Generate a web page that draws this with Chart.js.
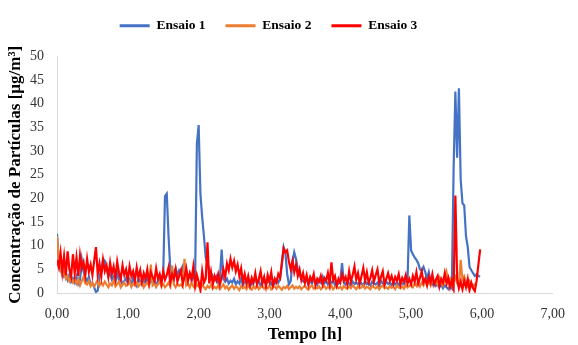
<!DOCTYPE html>
<html lang="pt">
<head>
    <meta charset="UTF-8">
    <title>Concentração de Partículas</title>
    <script src="https://cdn.jsdelivr.net/npm/chart.js@4.4.1/dist/chart.umd.min.js"></script>
</head>
<style>
    body {
        margin: 0;
        background: #ffffff;
    }

    .box {
        width: 578px;
        height: 345px;
    }
</style>
<body>
    <div class="box">
        <canvas id="myChart"></canvas>
    </div>

    <script>
        // amostragem a cada 0,025 h (0,00 ... 6,00 h)
        const passo = 0.025
        const tempo = Array.from({ length: 241 }, (_, i) => i * passo)

        const ensaio1 = [
            12.5, 6.5, 4.8, 5.5, 3.6, 4.2, 2.8, 3.9, 2.4, 3.1,
            2.2, 3.5, 1.9, 2.8, 7.0, 4.6, 3.2, 2.5, 3.4, 1.8,
            2.0, 1.2, 0.2, 0.5, 3.8, 4.5, 7.2, 6.8, 5.0, 3.6,
            4.2, 2.8, 3.5, 2.2, 4.8, 2.6, 3.0, 1.8, 2.5, 3.2,
            2.0, 2.8, 1.6, 3.4, 2.2, 1.5, 3.0, 2.4, 1.8, 2.9,
            2.0, 3.5, 1.8, 2.6, 2.2, 3.0, 1.5, 2.4, 2.8, 3.2,
            4.0, 20.5, 21.0, 12.0, 5.0, 3.2, 4.5, 5.2, 3.8, 4.8,
            4.2, 5.5, 3.5, 4.8, 3.0, 4.0, 2.6, 3.4, 3.0, 31.5,
            35.5, 21.0, 16.0, 12.0, 7.5, 6.3, 5.0, 4.2, 3.5, 2.8,
            3.5, 2.2, 3.0, 9.2, 3.0, 2.4, 3.0, 2.0, 2.6, 2.2,
            3.0, 1.8, 2.5, 2.0, 3.2, 1.6, 2.4, 2.8, 2.0, 2.6,
            1.8, 2.4, 3.0, 2.0, 2.6, 1.5, 2.2, 2.8, 2.0, 2.4,
            2.4, 1.8, 2.6, 2.0, 2.8, 2.2, 3.0, 6.0, 9.7, 8.5,
            4.0, 1.8, 2.5, 6.5, 8.6, 7.2, 5.0, 3.8, 3.0, 2.5,
            2.2, 3.0, 1.8, 2.6, 2.0, 3.0, 2.4, 1.8, 2.8, 2.2,
            3.4, 2.0, 2.6, 1.8, 2.4, 2.0, 2.8, 1.6, 2.4, 2.0,
            2.6, 6.3, 2.2, 1.8, 2.5, 2.0, 1.6, 2.4, 1.9, 2.2,
            1.8, 2.4, 2.0, 1.5, 2.6, 1.9, 2.2, 1.6, 2.4, 2.0,
            1.8, 2.2, 1.5, 2.6, 2.0, 1.7, 2.4, 1.9, 2.2, 1.6,
            2.4, 1.8, 2.2, 1.5, 2.6, 2.0, 1.8, 2.4, 3.0, 16.4,
            9.0, 8.2, 7.5, 7.0, 6.3, 5.0, 4.7, 5.5, 4.4, 3.0,
            4.4, 2.5, 1.8, 2.4, 1.5, 2.0, 1.2, 1.8, 1.0, 1.6,
            1.2, 0.8, 1.5, 1.0, 26.0, 42.6, 28.6, 43.3, 24.0, 19.0,
            18.5, 12.0, 9.7, 5.5, 4.8, 4.2, 3.6, 4.0, 3.6, 3.5,
            null
        ]

        const ensaio2 = [
            12.0, 7.0, 5.5, 3.8, 4.5, 3.0, 3.6, 2.5, 3.2, 2.2,
            2.8, 2.0, 3.0, 1.6, 2.5, 3.4, 2.0, 1.8, 2.6, 1.5,
            2.2, 1.4, 2.0, 2.8, 1.5, 2.2, 1.6, 2.4, 1.8, 1.2,
            2.0, 1.6, 2.6, 1.4, 1.9, 2.4, 1.2, 1.8, 2.2, 1.5,
            1.8, 2.4, 1.3, 2.0, 1.6, 2.2, 1.4, 1.9, 2.5, 1.2,
            1.8, 2.2, 1.5, 6.0, 1.6, 2.0, 1.3, 1.8, 2.4, 1.4,
            1.9, 1.2, 1.6, 2.2, 1.4, 5.8, 1.8, 1.2, 2.0, 1.5,
            1.8, 1.3, 7.2, 1.6, 2.0, 1.2, 2.2, 1.4, 1.0, 1.8,
            1.4, 1.0, 1.8, 1.2, 0.8, 1.5, 1.1, 1.7, 0.9, 1.3,
            1.0, 1.6, 0.8, 1.3, 1.8, 1.0, 1.4, 0.7, 1.2, 1.6,
            0.9, 1.4, 1.1, 0.6, 1.5, 1.0, 1.3, 0.8, 1.6, 1.1,
            0.7, 1.4, 1.0, 1.7, 0.8, 1.2, 1.5, 0.9, 1.3, 1.0,
            1.6, 0.8, 1.2, 1.4, 0.9, 1.5, 1.1, 0.7, 1.3, 1.0,
            1.5, 0.8, 1.2, 1.6, 0.9, 1.3, 1.0, 1.4, 0.8, 1.2,
            1.5, 1.0, 0.7, 1.3, 1.6, 0.9, 1.2, 1.0, 1.4, 0.8,
            1.2, 1.5, 0.9, 1.3, 1.0, 1.6, 0.8, 1.2, 1.4, 1.0,
            1.3, 0.8, 1.5, 1.1, 0.9, 1.4, 1.0, 1.6, 1.2, 0.8,
            1.4, 1.0, 1.2, 1.6, 0.9, 1.3, 1.1, 0.8, 1.5, 1.2,
            1.0, 1.4, 0.8, 1.3, 1.6, 1.0, 1.2, 0.9, 1.5, 1.1,
            1.3, 0.8, 1.6, 1.2, 1.0, 1.4, 0.9, 1.7, 1.2, 1.5,
            1.8, 1.2, 2.0, 1.5, 2.4, 1.4, 2.2, 1.6, 2.8, 1.8,
            2.5, 1.6, 3.0, 2.0, 2.6, 1.8, 3.2, 2.2, 1.6, 2.8,
            4.4, 2.2, 3.0, 1.8, 2.6, 3.4, 2.0, 1.6, 7.0, 2.8,
            3.5, 2.0, 1.4, 2.5, 1.8, 1.2, 2.0, null, null, null,
            null
        ]

        const ensaio3 = [
            7.0, 5.5, 8.5, 4.5, 7.8, 3.8, 8.8, 5.0, 3.5, 8.2,
            4.2, 7.5, 3.6, 8.0, 5.2, 6.5, 3.8, 7.2, 4.5, 6.0,
            3.8, 6.8, 9.7, 4.0, 6.2, 3.5, 7.0, 4.6, 5.8, 3.4,
            6.4, 4.0, 5.6, 3.2, 6.6, 4.4, 3.0, 5.8, 3.8, 5.0,
            2.8, 5.6, 3.6, 4.6, 2.6, 5.4, 3.2, 4.8, 2.4, 4.2,
            3.0, 5.0, 2.2, 4.4, 3.4, 2.6, 5.2, 3.0, 4.0, 2.0,
            4.6, 2.8, 3.8, 5.4, 2.2, 4.0, 3.0, 5.0, 2.4, 3.6,
            4.8, 2.0, 3.4, 5.2, 2.6, 4.2, 3.0, 5.6, 1.6, 3.8,
            2.4, 0.6, 4.6, 2.2, 3.0, 10.7, 2.0, 4.4, 1.8, 3.6,
            2.6, 4.0, 1.8, 3.2, 5.0, 3.4, 6.2, 4.8, 7.2, 5.4,
            6.8, 4.6, 6.0, 3.6, 5.2, 2.4, 4.0, 2.0, 3.6, 1.6,
            3.2, 2.2, 4.2, 1.8, 3.0, 4.6, 2.0, 3.4, 1.4, 3.8,
            2.4, 4.4, 1.6, 3.0, 2.2, 4.0, 3.2, 6.4, 9.4, 8.6,
            9.0, 6.6, 5.0, 6.8, 4.4, 6.0, 3.6, 5.0, 2.8, 4.2,
            2.2, 3.8, 1.8, 3.4, 2.6, 4.0, 1.6, 3.0, 2.4, 3.6,
            1.8, 3.2, 2.6, 4.2, 2.0, 6.5, 2.8, 3.6, 1.6, 3.0,
            2.2, 4.0, 2.6, 3.4, 1.8, 4.6, 2.4, 3.8, 5.6, 2.8,
            4.2, 2.0, 3.6, 5.3, 2.6, 4.4, 2.2, 3.2, 4.8, 2.4,
            3.8, 5.0, 2.2, 3.4, 4.6, 1.8, 3.0, 4.2, 2.6, 3.6,
            2.0, 3.4, 2.6, 4.0, 1.8, 3.2, 2.4, 3.8, 2.0, 3.0,
            1.8, 3.6, 2.4, 4.4, 2.0, 3.2, 4.6, 2.2, 3.0, 1.6,
            3.4, 2.2, 4.0, 1.8, 2.8, 3.6, 1.4, 3.0, 2.2, 4.2,
            2.0, 3.2, 1.2, 2.6, 1.0, 20.6, 3.0, 1.0, 2.4, 0.8,
            2.6, 1.2, 3.0, 0.6, 2.2, 1.0, 0.4, 2.6, 6.0, 9.2,
            null
        ]

        const pontos = (valores) => tempo.map((t, i) => ({ x: t, y: valores[i] }))

        const fonte = "'Liberation Serif', 'Times New Roman', serif"

        // legenda um pouco à esquerda e mais acima, como no original
        const moveLegenda = {
            id: 'moveLegenda',
            afterLayout(chart) {
                const lg = chart.legend
                lg.left -= 13
                lg.right -= 13
                lg.top -= 14
                lg.bottom -= 14
            }
        }

        const chart = new Chart("myChart", {
            type: "line",
            data: {
                datasets: [{
                    label: 'Ensaio 1',
                    data: pontos(ensaio1),
                    borderColor: "#4472C4",
                    backgroundColor: "#4472C4",
                    order: 2
                }, {
                    label: 'Ensaio 2',
                    data: pontos(ensaio2),
                    borderColor: "#ED7D31",
                    backgroundColor: "#ED7D31",
                    order: 1
                }, {
                    label: 'Ensaio 3',
                    data: pontos(ensaio3),
                    borderColor: "#FF0000",
                    backgroundColor: "#FF0000",
                    order: 0
                }]
            },
            options: {
                responsive: true,
                maintainAspectRatio: false,
                animation: false,
                layout: {
                    padding: { top: 13, right: 15, left: 0, bottom: 0 }
                },
                elements: {
                    point: { radius: 0 },
                    line: { borderWidth: 2.2, tension: 0 }
                },
                plugins: {
                    tooltip: { enabled: false },
                    legend: {
                        display: true,
                        position: 'top',
                        labels: {
                            boxWidth: 30,
                            boxHeight: 3,
                            padding: 20,
                            color: '#000',
                            font: { family: fonte, size: 13.5, weight: 'bold' },
                            generateLabels: (c) => Chart.defaults.plugins.legend.labels.generateLabels(c)
                                .sort((a, b) => a.datasetIndex - b.datasetIndex)
                                .map((item) => ({ ...item, lineWidth: 0 }))
                        }
                    }
                },
                scales: {
                    x: {
                        type: 'linear',
                        min: 0,
                        max: 7,
                        grid: { display: false, drawTicks: false },
                        border: { display: true, color: '#D9D9D9', width: 1 },
                        ticks: {
                            stepSize: 1,
                            padding: 13,
                            color: '#333',
                            font: { family: fonte, size: 14 },
                            maxRotation: 0,
                            callback: (v) => v.toFixed(2).replace('.', ',')
                        },
                        title: {
                            display: true,
                            text: 'Tempo [h]',
                            color: '#000',
                            font: { family: fonte, size: 17, weight: 'bold' },
                            padding: { top: 0, bottom: 0 }
                        },
                        afterFit: (s) => { s.height = 52 }
                    },
                    y: {
                        min: 0,
                        max: 50,
                        grid: { display: false, drawTicks: false },
                        border: { display: true, color: '#D9D9D9', width: 1 },
                        ticks: {
                            stepSize: 5,
                            padding: 13,
                            color: '#333',
                            font: { family: fonte, size: 14 }
                        },
                        title: {
                            display: true,
                            text: 'Concentração de Partículas [µg/m³]',
                            color: '#000',
                            font: { family: fonte, size: 17, weight: 'bold' },
                            padding: { top: 5, bottom: 4 }
                        },
                        afterFit: (s) => { s.width = 57 }
                    }
                }
            },
            plugins: [moveLegenda]
        })
    </script>
</body>
</html>
